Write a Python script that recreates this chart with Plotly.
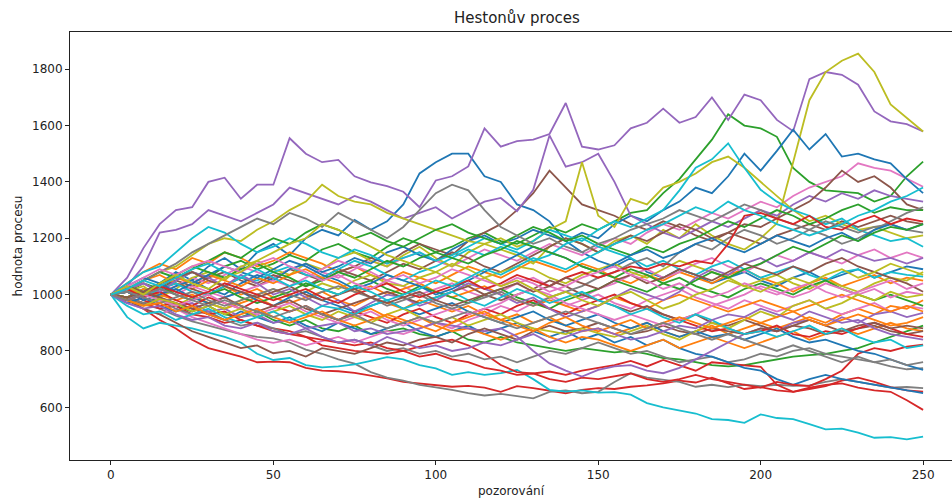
import plotly.graph_objects as go

# Observation index (every 5th step of the simulation)
steps = list(range(0, 251, 5))

# matplotlib "tab10" cycle
tab10 = ["#1f77b4", "#ff7f0e", "#2ca02c", "#d62728", "#9467bd",
         "#8c564b", "#e377c2", "#7f7f7f", "#bcbd22", "#17becf"]

# ---- simulated Heston paths, grouped by colour ----
blue = [
    [1000, 1020, 990, 1040, 1080, 1050, 1100, 1130, 1090, 1150,
     1180, 1140, 1200, 1230, 1210, 1265, 1230, 1260, 1320, 1430,
     1470, 1500, 1500, 1420, 1400, 1320, 1300, 1260, 1190, 1150,
     1120, 1100, 1130, 1080, 1060, 1090, 1070, 1040, 1060, 1080,
     1050, 1030, 1060, 1080, 1050, 1070, 1090, 1060, 1080, 1100, 1090],
    [1000, 990, 1020, 1000, 1030, 1050, 1020, 1000, 1040, 1070,
     1050, 1090, 1110, 1080, 1100, 1130, 1110, 1150, 1170, 1140,
     1120, 1160, 1190, 1210, 1180, 1200, 1230, 1210, 1190, 1220,
     1200, 1250, 1280, 1260, 1300, 1330, 1380, 1360, 1420, 1500,
     1440, 1510, 1585, 1515, 1570, 1490, 1500, 1480, 1466, 1410, 1360],
    [1000, 970, 990, 960, 940, 960, 930, 910, 940, 920,
     900, 920, 890, 870, 900, 880, 860, 880, 900, 870,
     850, 870, 890, 860, 880, 900, 870, 850, 870, 840,
     860, 830, 850, 820, 840, 810, 790, 780, 760, 740,
     730, 700, 680, 700, 715, 700, 690, 680, 670, 660, 650],
    [1000, 1010, 980, 1000, 1020, 990, 970, 990, 1010, 980,
     960, 990, 1010, 980, 960, 940, 960, 980, 950, 930,
     950, 970, 940, 920, 900, 920, 940, 910, 890, 910,
     930, 900, 880, 900, 870, 850, 870, 850, 860, 840,
     860, 880, 850, 830, 840, 820, 800, 790, 770, 750, 733],
    [1000, 1030, 1060, 1040, 1010, 1040, 1070, 1100, 1080, 1060,
     1090, 1120, 1100, 1070, 1050, 1020, 1040, 1070, 1050, 1030,
     1000, 1020, 1050, 1080, 1110, 1140, 1170, 1150, 1130, 1100,
     1080, 1110, 1140, 1160, 1130, 1150, 1180, 1200, 1170, 1150,
     1180, 1210, 1190, 1170, 1200, 1220, 1190, 1230, 1250, 1230, 1250],
]

orange = [
    [1000, 1040, 1080, 1110, 1090, 1130, 1110, 1150, 1130, 1100,
     1120, 1150, 1130, 1110, 1080, 1100, 1070, 1050, 1080, 1060,
     1040, 1070, 1100, 1080, 1060, 1090, 1120, 1100, 1080, 1110,
     1090, 1060, 1040, 1070, 1050, 1080, 1060, 1040, 1070, 1090,
     1060, 1040, 1010, 1040, 1060, 1030, 1050, 1070, 1040, 1060, 1050],
    [1000, 1010, 1050, 1070, 1040, 1020, 1050, 1030, 1000, 1020,
     990, 970, 990, 1010, 980, 960, 990, 970, 950, 980,
     960, 940, 960, 930, 910, 930, 900, 920, 890, 870,
     880, 860, 880, 900, 870, 850, 870, 890, 860, 880,
     900, 880, 900, 920, 900, 930, 950, 930, 960, 950, 980],
    [1000, 990, 1020, 1000, 980, 1000, 970, 950, 970, 990,
     960, 940, 960, 930, 910, 930, 950, 920, 900, 920,
     890, 870, 880, 860, 840, 860, 880, 850, 830, 850,
     840, 820, 800, 820, 840, 810, 830, 850, 830, 810,
     830, 850, 870, 840, 860, 880, 860, 880, 900, 880, 870],
    [1000, 1020, 1000, 1030, 1060, 1040, 1070, 1050, 1030, 1060,
     1040, 1070, 1090, 1060, 1040, 1010, 1030, 1000, 1020, 1040,
     1010, 990, 1010, 1030, 1000, 980, 960, 980, 960, 940,
     960, 990, 970, 950, 980, 1000, 980, 960, 940, 960,
     980, 960, 940, 960, 980, 1000, 980, 960, 940, 960, 940],
    [1000, 980, 960, 970, 940, 960, 930, 910, 930, 950,
     920, 900, 920, 940, 910, 890, 910, 930, 910, 890,
     870, 900, 920, 940, 910, 890, 870, 900, 920, 890,
     870, 890, 910, 880, 900, 920, 900, 880, 900, 920,
     900, 920, 940, 910, 890, 910, 930, 910, 890, 900, 920],
]

green = [
    [1000, 1010, 1040, 1020, 1050, 1080, 1060, 1100, 1120, 1090,
     1110, 1140, 1120, 1160, 1180, 1150, 1130, 1170, 1200, 1180,
     1150, 1170, 1200, 1220, 1190, 1180, 1210, 1240, 1220, 1250,
     1230, 1260, 1290, 1300, 1360, 1410, 1480, 1550, 1640, 1600,
     1590, 1560, 1450, 1400, 1370, 1365, 1360, 1330, 1350, 1420, 1472],
    [1000, 990, 970, 990, 960, 940, 960, 930, 920, 940,
     910, 890, 910, 880, 870, 890, 860, 870, 880, 860,
     850, 870, 840, 830, 850, 830, 820, 810, 800, 810,
     803, 795, 800, 790, 775, 770, 760, 750, 745, 750,
     760, 770, 780, 785, 790, 800, 810, 830, 850, 870, 890],
    [1000, 1020, 1050, 1080, 1060, 1090, 1120, 1150, 1130, 1170,
     1200, 1180, 1220, 1250, 1230, 1200, 1220, 1190, 1170, 1200,
     1230, 1250, 1220, 1200, 1180, 1210, 1240, 1220, 1190, 1210,
     1180, 1160, 1140, 1170, 1150, 1180, 1200, 1230, 1260, 1240,
     1270, 1300, 1280, 1250, 1270, 1300, 1320, 1290, 1310, 1300, 1300],
    [1000, 990, 1010, 1030, 1000, 980, 1000, 1020, 990, 970,
     990, 1010, 1040, 1020, 1000, 1030, 1050, 1020, 1000, 1030,
     1010, 990, 970, 1000, 1020, 990, 970, 950, 980, 1000,
     1020, 1050, 1030, 1010, 1040, 1060, 1030, 1010, 990, 1020,
     1040, 1020, 1000, 1030, 1050, 1020, 1000, 980, 1000, 980, 960],
    [1000, 1030, 1010, 1040, 1070, 1100, 1080, 1060, 1090, 1110,
     1080, 1060, 1030, 1050, 1080, 1060, 1090, 1120, 1100, 1130,
     1150, 1130, 1110, 1140, 1160, 1190, 1170, 1150, 1130, 1100,
     1080, 1060, 1090, 1070, 1040, 1020, 1050, 1080, 1060, 1090,
     1110, 1140, 1170, 1150, 1180, 1210, 1190, 1220, 1240, 1230, 1250],
]

red = [
    [1000, 985, 950, 910, 880, 840, 810, 795, 780, 760,
     762, 760, 740, 730, 728, 722, 712, 703, 690, 685,
     678, 673, 676, 670, 655, 675, 668, 660, 650, 662,
     668, 665, 673, 678, 685, 695, 688, 705, 685, 665,
     672, 660, 655, 670, 680, 685, 670, 660, 655, 625, 591],
    [1000, 990, 970, 950, 960, 930, 920, 900, 910, 890,
     880, 870, 850, 820, 810, 800, 795, 790, 800, 815,
     830, 840, 820, 790, 750, 725, 720, 727, 715, 730,
     740, 750, 765, 745, 768, 750, 730, 760, 755, 750,
     744, 680, 655, 665, 675, 695, 705, 690, 672, 660, 656],
    [1000, 1010, 980, 960, 970, 950, 930, 940, 910, 890,
     870, 860, 850, 840, 830, 820, 830, 810, 800, 780,
     790, 770, 760, 740, 730, 715, 720, 700, 690, 705,
     700, 710, 720, 700, 690, 700, 715, 700, 690, 680,
     670, 690, 680, 675, 700, 730, 790, 810, 800, 815, 822],
    [1000, 1020, 990, 1010, 980, 960, 990, 970, 950, 980,
     960, 940, 960, 930, 910, 940, 920, 900, 930, 950,
     920, 900, 930, 950, 930, 960, 980, 950, 930, 960,
     980, 1000, 970, 950, 930, 910, 890, 870, 880, 860,
     870, 890, 860, 850, 870, 860, 880, 900, 880, 860, 850],
    [1000, 980, 1000, 1030, 1010, 990, 1010, 1040, 1020, 1000,
     980, 1000, 1020, 990, 970, 1000, 1020, 1040, 1010, 990,
     1010, 1030, 1050, 1020, 1040, 1070, 1050, 1030, 1060, 1080,
     1060, 1080, 1100, 1090, 1110, 1100, 1120, 1110, 1180, 1280,
     1290, 1270, 1250, 1280, 1240, 1230, 1260, 1280, 1250, 1270, 1259],
]

purple = [
    [1000, 1060, 1165, 1250, 1300, 1310, 1400, 1415, 1340, 1390,
     1390, 1555, 1500, 1470, 1478, 1420, 1398, 1385, 1365, 1310,
     1405, 1420, 1455, 1590, 1525, 1545, 1550, 1570, 1680, 1525,
     1515, 1530, 1590, 1610, 1660, 1610, 1630, 1700, 1620, 1710,
     1690, 1620, 1580, 1765, 1790, 1780, 1745, 1650, 1615, 1605, 1579],
    [1000, 1030, 1100, 1220, 1230, 1250, 1300, 1280, 1260, 1290,
     1320, 1380, 1360, 1340, 1320, 1350, 1330, 1300, 1270, 1290,
     1310, 1270, 1300, 1330, 1343, 1296, 1372, 1565, 1454, 1470,
     1500, 1400, 1280, 1250, 1220, 1200, 1230, 1260, 1240, 1270,
     1300, 1280, 1320, 1350, 1330, 1360, 1340, 1370, 1350, 1340, 1330],
    [1000, 980, 1010, 990, 960, 970, 940, 950, 920, 930,
     900, 910, 880, 890, 900, 870, 880, 860, 870, 880,
     900, 890, 880, 870, 880, 851, 800, 756, 730, 709,
     733, 745, 750, 730, 721, 740, 770, 800, 830, 860,
     880, 870, 900, 910, 890, 920, 900, 930, 940, 920, 935],
    [1000, 1020, 1040, 1010, 1050, 1080, 1060, 1030, 1070, 1040,
     1000, 1020, 990, 960, 980, 940, 970, 1000, 990, 960,
     980, 1010, 1040, 1020, 1000, 970, 990, 950, 920, 940,
     960, 990, 1020, 1000, 980, 1010, 1060, 1090, 1070, 1110,
     1130, 1100, 1120, 1150, 1130, 1160, 1140, 1120, 1130, 1110, 1130],
    [1000, 970, 950, 960, 930, 910, 920, 890, 880, 900,
     870, 860, 880, 850, 830, 840, 820, 850, 830, 810,
     820, 800, 810, 830, 820, 840, 860, 830, 850, 870,
     880, 860, 840, 850, 870, 890, 880, 910, 930, 920,
     950, 930, 910, 940, 920, 900, 910, 880, 860, 850, 840],
]

brown = [
    [1000, 1020, 1000, 1030, 1050, 1030, 1060, 1080, 1050, 1030,
     1060, 1090, 1070, 1050, 1080, 1100, 1130, 1110, 1150, 1180,
     1160, 1140, 1190, 1220, 1250, 1300, 1360, 1440, 1380, 1320,
     1300, 1280, 1250, 1230, 1260, 1240, 1210, 1190, 1220, 1200,
     1180, 1210, 1230, 1250, 1230, 1260, 1240, 1260, 1280, 1260, 1250],
    [1000, 1010, 990, 1020, 1040, 1020, 1000, 1030, 1060, 1040,
     1070, 1050, 1030, 1060, 1090, 1070, 1050, 1080, 1110, 1090,
     1120, 1150, 1130, 1100, 1080, 1110, 1140, 1170, 1200, 1180,
     1150, 1180, 1210, 1190, 1220, 1250, 1230, 1200, 1220, 1250,
     1240, 1270, 1300, 1330, 1380, 1440, 1400, 1420, 1380, 1320, 1300],
    [1000, 980, 950, 930, 900, 870, 850, 830, 810, 820,
     792, 800, 780, 810, 800, 790, 810, 830, 820, 840,
     850, 830, 860, 880, 860, 840, 870, 890, 870, 880,
     900, 880, 860, 870, 890, 870, 860, 880, 870, 860,
     880, 870, 890, 880, 860, 870, 880, 890, 870, 860, 870],
    [1000, 990, 1010, 990, 970, 950, 970, 990, 960, 940,
     960, 980, 950, 930, 950, 970, 990, 1010, 990, 970,
     990, 1010, 1030, 1000, 980, 1000, 1020, 1050, 1030, 1000,
     980, 960, 940, 960, 930, 910, 930, 900, 890, 910,
     890, 870, 890, 910, 890, 870, 890, 900, 880, 890, 880],
    [1000, 1030, 1010, 1040, 1060, 1080, 1050, 1030, 1010, 990,
     1010, 1030, 1000, 980, 1000, 1020, 990, 970, 990, 1010,
     980, 960, 980, 1000, 1020, 1040, 1010, 1030, 1060, 1040,
     1020, 1050, 1070, 1040, 1060, 1090, 1070, 1050, 1080, 1110,
     1090, 1070, 1100, 1080, 1110, 1130, 1100, 1080, 1060, 1040, 1010],
]

pink = [
    [1000, 1020, 1040, 1010, 1030, 1060, 1040, 1070, 1100, 1080,
     1060, 1090, 1110, 1080, 1060, 1090, 1120, 1100, 1130, 1150,
     1120, 1100, 1130, 1160, 1140, 1120, 1150, 1180, 1160, 1140,
     1170, 1200, 1180, 1220, 1250, 1230, 1260, 1290, 1270, 1300,
     1330, 1310, 1350, 1380, 1400, 1420, 1466, 1450, 1440, 1410, 1383],
    [1000, 970, 950, 930, 950, 920, 900, 880, 860, 840,
     829, 840, 820, 835, 850, 830, 850, 870, 860, 880,
     900, 880, 910, 930, 960, 940, 970, 990, 960, 980,
     1000, 970, 950, 980, 1000, 1020, 990, 970, 950, 980,
     960, 940, 960, 980, 950, 930, 950, 970, 940, 960, 950],
    [1000, 1010, 990, 1020, 1000, 1030, 1010, 990, 1010, 1030,
     1050, 1030, 1060, 1090, 1120, 1100, 1080, 1050, 1030, 1000,
     1020, 1040, 1010, 990, 1010, 1040, 1060, 1030, 1010, 990,
     1020, 1040, 1070, 1090, 1060, 1080, 1110, 1130, 1100, 1080,
     1110, 1140, 1120, 1150, 1130, 1110, 1140, 1160, 1130, 1150, 1130],
    [1000, 980, 1000, 980, 960, 980, 1000, 970, 950, 930,
     950, 970, 940, 920, 900, 920, 940, 910, 890, 910,
     930, 950, 930, 950, 970, 1000, 1020, 1000, 970, 950,
     930, 910, 930, 910, 890, 910, 930, 960, 980, 1000,
     1030, 1010, 990, 1010, 1040, 1020, 1000, 1020, 990, 1010, 1000],
    [1000, 1030, 1060, 1090, 1070, 1100, 1120, 1100, 1080, 1110,
     1130, 1100, 1080, 1050, 1070, 1040, 1020, 1050, 1070, 1040,
     1060, 1090, 1070, 1050, 1030, 1060, 1040, 1010, 1030, 1060,
     1080, 1100, 1070, 1050, 1020, 1040, 1010, 990, 1010, 1040,
     1020, 1000, 1020, 1040, 1010, 990, 1010, 1030, 1050, 1020, 1040],
]

gray = [
    [1000, 985, 965, 950, 925, 905, 890, 875, 860, 850,
     845, 830, 805, 790, 770, 755, 725, 705, 695, 680,
     672, 662, 650, 642, 648, 640, 632, 655, 660, 650,
     655, 690, 721, 705, 697, 690, 673, 680, 672, 680,
     675, 680, 676, 678, 690, 700, 690, 680, 670, 672, 668],
    [1000, 990, 970, 980, 950, 930, 940, 910, 890, 900,
     880, 860, 870, 850, 830, 840, 820, 800, 810, 790,
     800, 780, 790, 770, 780, 760, 780, 800, 790, 810,
     830, 810, 790, 800, 780, 760, 770, 780, 760, 770,
     790, 780, 800, 810, 790, 780, 770, 760, 745, 735, 739],
    [1000, 1020, 1050, 1080, 1110, 1150, 1180, 1210, 1240, 1270,
     1250, 1290, 1270, 1240, 1290, 1260, 1230, 1200, 1240, 1300,
     1360, 1390, 1370, 1300, 1240, 1210, 1180, 1200, 1170, 1150,
     1180, 1200, 1230, 1250, 1270, 1300, 1280, 1260, 1290, 1320,
     1300, 1270, 1250, 1230, 1260, 1240, 1220, 1240, 1250, 1230, 1220],
    [1000, 1010, 990, 970, 990, 1010, 980, 960, 980, 1000,
     1020, 1000, 980, 1010, 1030, 1010, 990, 960, 980, 1000,
     970, 950, 970, 990, 1010, 980, 960, 990, 1010, 1030,
     1060, 1080, 1110, 1130, 1100, 1150, 1180, 1160, 1200, 1230,
     1210, 1180, 1200, 1230, 1210, 1180, 1200, 1230, 1260, 1290, 1310],
    [1000, 980, 1000, 1020, 1000, 980, 960, 980, 960, 940,
     920, 940, 960, 930, 910, 930, 900, 880, 900, 920,
     900, 920, 940, 920, 900, 880, 900, 920, 940, 920,
     900, 880, 860, 880, 900, 880, 860, 840, 860, 840,
     820, 800, 820, 800, 780, 760, 780, 760, 770, 750, 760],
]

olive = [
    [1000, 1010, 1030, 990, 1020, 1060, 1080, 1050, 1100, 1120,
     1090, 1070, 1110, 1090, 1130, 1150, 1120, 1100, 1140, 1170,
     1130, 1100, 1150, 1180, 1160, 1140, 1110, 1170, 1200, 1180,
     1150, 1190, 1210, 1180, 1230, 1200, 1250, 1210, 1180, 1160,
     1200, 1253, 1470, 1690, 1790, 1830, 1855, 1790, 1675, 1626, 1579],
    [1000, 1020, 1050, 1080, 1100, 1140, 1180, 1200, 1190, 1230,
     1260, 1300, 1330, 1390, 1350, 1330, 1320, 1290, 1270, 1250,
     1230, 1210, 1190, 1180, 1200, 1170, 1190, 1230, 1260, 1470,
     1280, 1240, 1340, 1320, 1380, 1400, 1430, 1470, 1490, 1450,
     1400, 1350, 1300, 1260, 1280, 1250, 1230, 1240, 1220, 1200, 1210],
    [1000, 990, 1010, 980, 960, 990, 970, 950, 980, 1000,
     1020, 990, 1010, 1040, 1020, 1050, 1070, 1040, 1030, 1060,
     1080, 1050, 1030, 1060, 1080, 1100, 1090, 1060, 1040, 1070,
     1090, 1110, 1080, 1060, 1090, 1120, 1100, 1080, 1060, 1030,
     1050, 1070, 1040, 1020, 1050, 1030, 1010, 1040, 1060, 1050, 1080],
    [1000, 980, 960, 985, 970, 940, 960, 930, 950, 920,
     940, 960, 930, 910, 940, 920, 900, 930, 950, 920,
     900, 920, 890, 910, 930, 900, 880, 870, 860, 880,
     863, 850, 870, 890, 860, 840, 870, 900, 880, 910,
     940, 920, 960, 980, 950, 970, 1000, 980, 1010, 990, 1000],
    [1000, 1030, 1000, 1040, 1070, 1040, 1020, 1060, 1080, 1120,
     1150, 1180, 1200, 1250, 1230, 1200, 1170, 1140, 1120, 1100,
     1080, 1110, 1090, 1060, 1030, 1050, 1020, 990, 1010, 980,
     960, 990, 1010, 980, 950, 970, 1000, 1020, 1050, 1030,
     1010, 1040, 1060, 1040, 1070, 1090, 1060, 1080, 1110, 1090, 1070],
]

cyan = [
    [1000, 920, 880, 900, 890, 880, 865, 850, 830, 790,
     768, 775, 750, 742, 745, 752, 765, 778, 770, 750,
     738, 715, 725, 715, 721, 733, 700, 662, 656, 660,
     652, 654, 645, 615, 600, 590, 578, 558, 555, 545,
     575, 562, 558, 540, 522, 524, 510, 492, 494, 486, 496],
    [1000, 1040, 1080, 1100, 1150, 1200, 1240, 1220, 1180, 1150,
     1170, 1200, 1180, 1150, 1130, 1160, 1140, 1110, 1130, 1150,
     1120, 1140, 1170, 1200, 1180, 1160, 1190, 1230, 1210, 1190,
     1230, 1260, 1240, 1270, 1300, 1370, 1450, 1480, 1537, 1450,
     1372, 1330, 1300, 1280, 1250, 1270, 1230, 1210, 1190, 1200, 1170],
    [1000, 1010, 990, 1020, 1040, 1010, 1000, 1030, 1060, 1050,
     1080, 1100, 1070, 1060, 1090, 1120, 1100, 1070, 1050, 1080,
     1100, 1130, 1160, 1140, 1170, 1150, 1120, 1140, 1180, 1200,
     1170, 1150, 1130, 1100, 1120, 1090, 1070, 1100, 1120, 1090,
     1060, 1080, 1100, 1070, 1050, 1080, 1090, 1060, 1080, 1070, 1064],
    [1000, 960, 930, 940, 910, 930, 950, 920, 900, 920,
     940, 910, 930, 960, 950, 930, 960, 980, 950, 970,
     990, 1010, 980, 960, 990, 1020, 1000, 970, 990, 1010,
     980, 960, 930, 950, 920, 900, 930, 910, 880, 860,
     870, 850, 870, 890, 860, 880, 850, 830, 840, 810, 820],
    [1000, 1020, 1050, 1030, 1060, 1090, 1110, 1080, 1060, 1090,
     1060, 1030, 1050, 1020, 1000, 1030, 1010, 980, 1000, 1020,
     1050, 1030, 1060, 1090, 1070, 1100, 1130, 1110, 1090, 1120,
     1150, 1180, 1200, 1230, 1250, 1280, 1310, 1290, 1330, 1300,
     1280, 1250, 1230, 1210, 1230, 1250, 1280, 1300, 1330, 1350, 1380],
]

groups = [blue, orange, green, red, purple, brown, pink, gray, olive, cyan]
for g in groups:
    for p in g:
        assert len(p) == len(steps), len(p)

fig = go.Figure()
# plotted in the same order as a matplotlib loop would cycle its colours
for k in range(5):
    for color, group in zip(tab10, groups):
        fig.add_trace(go.Scatter(
            x=steps, y=group[k], mode="lines",
            line=dict(color=color, width=1.8),
            hoverinfo="skip", showlegend=False,
        ))

font = "DejaVu Sans, Arial, sans-serif"
fig.update_layout(
    width=952, height=498,
    margin=dict(l=70, r=0, t=32, b=38, autoexpand=False),
    paper_bgcolor="white", plot_bgcolor="white",
    font=dict(family=font, size=12, color="#222222"),
    title=dict(text="Hestonův proces", x=0.543, xref="container", xanchor="center",
               y=1 - 18 / 498, yref="container", yanchor="middle",
               font=dict(family=font, size=15, color="#222222")),
    xaxis=dict(range=[-12.6, 258.9], tickvals=[0, 50, 100, 150, 200, 250],
               showgrid=False, zeroline=False, showline=True, mirror=True,
               linecolor="#222222", linewidth=1, ticks="outside", ticklen=4,
               tickcolor="#222222", tickfont=dict(size=12),
               title=dict(text="pozorování", standoff=7, font=dict(size=12)),
               automargin=False),
    yaxis=dict(range=[413, 1932], tickvals=[600, 800, 1000, 1200, 1400, 1600, 1800],
               showgrid=False, zeroline=False, showline=True,
               linecolor="#222222", linewidth=1, ticks="outside", ticklen=4,
               tickcolor="#222222", tickfont=dict(size=12),
               title=dict(text="hodnota procesu", standoff=6, font=dict(size=12)),
               automargin=False),
)

fig.write_html("out.html", config={"displayModeBar": False})
